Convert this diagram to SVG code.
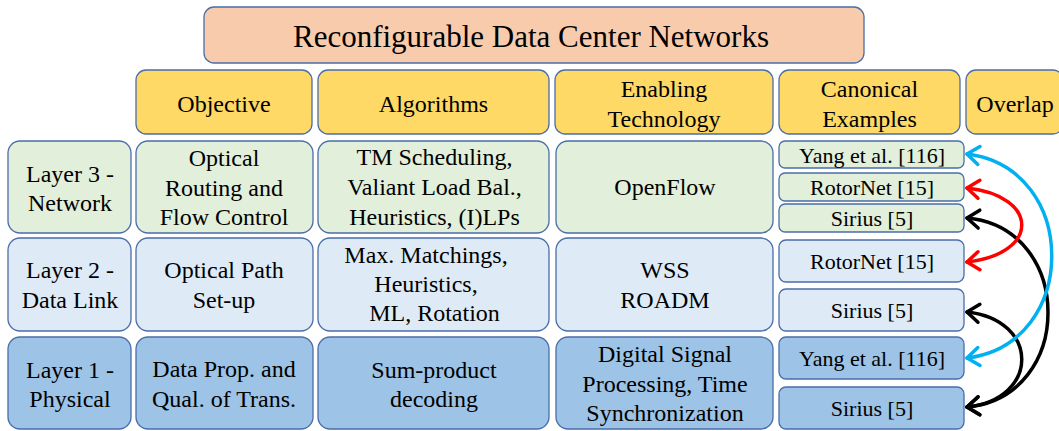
<svg xmlns="http://www.w3.org/2000/svg" width="1059" height="431" viewBox="0 0 1059 431">
<defs>
<style>
rect{stroke:#4A6EA8;stroke-width:1.3}
.title{fill:#F8CBAD}
.hdr{fill:#FFD966}
.l3{fill:#E2EFDA}
.l2{fill:#DEEBF7}
.l1{fill:#9DC3E6}
text{font-family:"Liberation Serif","Times New Roman",serif;font-size:24px;fill:#000;text-anchor:middle}
.t{font-size:31px}
.c{font-size:22px}
.arr{fill:none;stroke-width:3.5;stroke-linecap:round}
</style>
<marker id="mb" markerUnits="userSpaceOnUse" markerWidth="30" markerHeight="30" refX="0" refY="0" viewBox="-15 -15 30 30" orient="auto-start-reverse" overflow="visible"><path d="M-12,-9 L0,0 L-12,9" fill="none" stroke="#00B0F0" stroke-width="3.5" stroke-linecap="round" stroke-linejoin="round"/></marker>
<marker id="mr" markerUnits="userSpaceOnUse" markerWidth="30" markerHeight="30" refX="0" refY="0" viewBox="-15 -15 30 30" orient="auto-start-reverse" overflow="visible"><path d="M-12,-9 L0,0 L-12,9" fill="none" stroke="#FF0000" stroke-width="3.5" stroke-linecap="round" stroke-linejoin="round"/></marker>
<marker id="mk" markerUnits="userSpaceOnUse" markerWidth="30" markerHeight="30" refX="0" refY="0" viewBox="-15 -15 30 30" orient="auto-start-reverse" overflow="visible"><path d="M-12,-9 L0,0 L-12,9" fill="none" stroke="#000" stroke-width="3.5" stroke-linecap="round" stroke-linejoin="round"/></marker>
</defs>

<g id="title"><rect class="title" x="204" y="7" width="660" height="56" rx="10"/><text class="t" x="531" y="47">Reconfigurable Data Center Networks</text></g>

<g id="h-objective"><rect class="hdr" x="136" y="70" width="176" height="64" rx="10"/><text x="224" y="112">Objective</text></g>
<g id="h-algorithms"><rect class="hdr" x="318" y="70" width="231" height="64" rx="10"/><text x="433.5" y="112">Algorithms</text></g>
<g id="h-enabling"><rect class="hdr" x="555" y="70" width="218" height="64" rx="10"/><text x="664" y="97">Enabling</text><text x="664" y="127">Technology</text></g>
<g id="h-canonical"><rect class="hdr" x="779" y="70" width="181" height="64" rx="10"/><text x="869.5" y="97">Canonical</text><text x="869.5" y="127">Examples</text></g>
<g id="h-overlap"><rect class="hdr" x="966" y="70" width="97" height="64" rx="10"/><text x="1015" y="112">Overlap</text></g>

<g id="layer3"><rect class="l3" x="8" y="141" width="123" height="92" rx="12"/><text x="70" y="182">Layer 3 -</text><text x="70" y="211">Network</text></g>
<g id="obj3"><rect class="l3" x="136" y="141" width="177" height="92" rx="12"/><text x="224" y="166">Optical</text><text x="224" y="196">Routing and</text><text x="224" y="225">Flow Control</text></g>
<g id="alg3"><rect class="l3" x="318" y="141" width="231" height="92" rx="12"/><text x="434.5" y="165">TM Scheduling,</text><text x="434.5" y="195">Valiant Load Bal.,</text><text x="434.5" y="225">Heuristics, (I)LPs</text></g>
<g id="tech3"><rect class="l3" x="556" y="141" width="217" height="92" rx="12"/><text x="665" y="195">OpenFlow</text></g>
<g id="ex3a"><rect class="l3" x="779" y="141" width="185" height="27" rx="6"/><text class="c" x="872" y="163">Yang et al. [116]</text></g>
<g id="ex3b"><rect class="l3" x="779" y="173" width="185" height="28" rx="6"/><text class="c" x="872" y="195">RotorNet [15]</text></g>
<g id="ex3c"><rect class="l3" x="779" y="204" width="185" height="28" rx="6"/><text class="c" x="872" y="226">Sirius [5]</text></g>

<g id="layer2"><rect class="l2" x="8" y="238" width="123" height="93" rx="12"/><text x="70" y="278">Layer 2 -</text><text x="70" y="308">Data Link</text></g>
<g id="obj2"><rect class="l2" x="136" y="238" width="177" height="93" rx="12"/><text x="224" y="278">Optical Path</text><text x="224" y="308">Set-up</text></g>
<g id="alg2"><rect class="l2" x="318" y="238" width="231" height="93" rx="12"/><text x="426" y="263">Max. Matchings,</text><text x="426" y="292">Heuristics,</text><text x="434.5" y="321">ML, Rotation</text></g>
<g id="tech2"><rect class="l2" x="556" y="238" width="217" height="93" rx="12"/><text x="665" y="278">WSS</text><text x="665" y="308">ROADM</text></g>
<g id="ex2a"><rect class="l2" x="779" y="240" width="185" height="42" rx="7"/><text class="c" x="872" y="269">RotorNet [15]</text></g>
<g id="ex2b"><rect class="l2" x="779" y="289" width="185" height="42" rx="7"/><text class="c" x="872" y="318">Sirius [5]</text></g>

<g id="layer1"><rect class="l1" x="8" y="337" width="123" height="92" rx="12"/><text x="70" y="378">Layer 1 -</text><text x="70" y="407">Physical</text></g>
<g id="obj1"><rect class="l1" x="136" y="337" width="177" height="92" rx="12"/><text x="224" y="377">Data Prop. and</text><text x="224" y="407">Qual. of Trans.</text></g>
<g id="alg1"><rect class="l1" x="318" y="337" width="231" height="92" rx="12"/><text x="434" y="378">Sum-product</text><text x="434" y="407">decoding</text></g>
<g id="tech1"><rect class="l1" x="556" y="337" width="217" height="92" rx="12"/><text x="665" y="362">Digital Signal</text><text x="665" y="392">Processing, Time</text><text x="665" y="421">Synchronization</text></g>
<g id="ex1a"><rect class="l1" x="779" y="337" width="185" height="42" rx="7"/><text class="c" x="872" y="366">Yang et al. [116]</text></g>
<g id="ex1b"><rect class="l1" x="779" y="387" width="185" height="42" rx="7"/><text class="c" x="872" y="416">Sirius [5]</text></g>

<g id="connectors">
<path class="arr" stroke="#000" marker-start="url(#mk)" marker-end="url(#mk)" d="M967,218 C1075,228 1075,397 967,407"/>
<path class="arr" stroke="#000" marker-start="url(#mk)" marker-end="url(#mk)" d="M967,312 C1040,320 1040,399 967,407"/>
<path class="arr" stroke="#00B0F0" marker-start="url(#mb)" marker-end="url(#mb)" d="M967,154 C1080,168 1080,344 967,358"/>
<path class="arr" stroke="#FF0000" marker-start="url(#mr)" marker-end="url(#mr)" d="M967,188 C1040,196 1040,254 967,262"/>
</g>
</svg>
